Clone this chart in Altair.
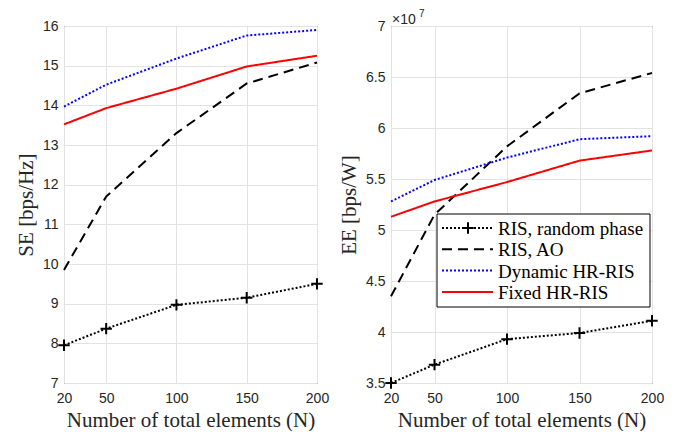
import altair as alt
import pandas as pd

N = [20, 50, 100, 150, 200]
series = ["RIS, random phase", "RIS, AO", "Dynamic HR-RIS", "Fixed HR-RIS"]
colors = ["#000000", "#000000", "#0000ff", "#ff0000"]
dashes = [[2, 2], [10, 6], [2, 2], [1, 0]]

se_random = [7.95, 8.37, 8.97, 9.15, 9.50]
se_ao = [9.85, 11.70, 13.30, 14.55, 15.08]
se_dyn = [13.97, 14.52, 15.18, 15.76, 15.90]
se_fixed = [13.52, 13.93, 14.42, 14.98, 15.25]

ee_random = [3.50, 3.68, 3.93, 3.99, 4.11]
ee_ao = [4.35, 5.15, 5.82, 6.34, 6.54]
ee_dyn = [5.28, 5.49, 5.71, 5.89, 5.92]
ee_fixed = [5.13, 5.28, 5.47, 5.68, 5.78]

se_ticks = [7, 8, 9, 10, 11, 12, 13, 14, 15, 16]
ee_ticks = [3.5, 4, 4.5, 5, 5.5, 6, 6.5, 7]


def make_df(vals):
    rows = []
    for s, v in zip(series, vals):
        for n, y in zip(N, v):
            rows.append({"N": n, "value": y, "series": s})
    return pd.DataFrame(rows)


se_df = make_df([se_random, se_ao, se_dyn, se_fixed])
ee_df = make_df([ee_random, ee_ao, ee_dyn, ee_fixed])

PLUS = "M-1,0L1,0M0,-1L0,1"
SANS = "Liberation Sans"
SERIF = "Liberation Serif"
ONE = pd.DataFrame({"a": [0]})


def legend_layers():
    # legend box (relative to the right plot area)
    out = [alt.Chart(ONE).mark_rect(fill="white", stroke="black", strokeWidth=1).encode(
        x=alt.value(46), x2=alt.value(259), y=alt.value(188), y2=alt.value(281))]
    for i, s in enumerate(series):
        yc = 202 + i * 21.3
        out.append(alt.Chart(ONE).mark_rule(strokeWidth=2, strokeDash=dashes[i], color=colors[i]).encode(
            x=alt.value(51), x2=alt.value(102), y=alt.value(yc)))
        out.append(alt.Chart(pd.DataFrame({"t": [s]})).mark_text(
            align="left", baseline="middle", font=SERIF, fontSize=19, color="black"
        ).encode(x=alt.value(107), y=alt.value(yc + 1), text="t:N"))
    out.append(alt.Chart(ONE).mark_point(
        shape=PLUS, size=130, strokeWidth=2, color="black", filled=False, opacity=1
    ).encode(x=alt.value(77), y=alt.value(202)))
    return out


def panel(df, ytitle, ydomain, yticks, width, right):
    x = alt.X("N:Q", scale=alt.Scale(domain=[20, 200], nice=False),
              axis=alt.Axis(values=N, title="Number of total elements (N)"))
    y = alt.Y("value:Q", scale=alt.Scale(domain=ydomain, nice=False, zero=False),
              axis=alt.Axis(values=yticks, title=ytitle, format="~g"))
    color = alt.Color("series:N", scale=alt.Scale(domain=series, range=colors),
                      sort=series, legend=None)
    dash = alt.StrokeDash("series:N", scale=alt.Scale(domain=series, range=dashes),
                          sort=series, legend=None)
    base = alt.Chart(df)
    lines = base.mark_line(strokeWidth=2).encode(x=x, y=y, color=color, strokeDash=dash)
    pts = base.transform_filter(alt.datum.series == series[0]).mark_point(
        shape=PLUS, size=130, strokeWidth=2, color="black", filled=False, opacity=1
    ).encode(x=x, y=y)
    layers = [lines, pts]
    if right:
        layers += legend_layers()
        exp1 = alt.Chart(pd.DataFrame({"t": ["×10"]})).mark_text(
            align="left", baseline="alphabetic", font=SANS, fontSize=14, color="#262626"
        ).encode(x=alt.value(1), y=alt.value(-2), text="t:N")
        exp2 = alt.Chart(pd.DataFrame({"t": ["7"]})).mark_text(
            align="left", baseline="alphabetic", font=SANS, fontSize=10, color="#262626"
        ).encode(x=alt.value(28), y=alt.value(-9), text="t:N")
        layers += [exp1, exp2]
    return alt.layer(*layers).properties(width=width, height=357)


left = panel(se_df, "SE [bps/Hz]", [7, 16], se_ticks, 253, False)
right = panel(ee_df, "EE [bps/W]", [3.5, 7], ee_ticks, 261, True)

chart = alt.hconcat(left, right, spacing=74, bounds="flush").properties(
    padding={"left": 6, "top": 0, "right": 5, "bottom": 0},
    background="white"
).configure_view(
    stroke="#262626", strokeWidth=1
).configure_axis(
    labelFont=SANS, labelFontSize=14, labelColor="#262626",
    titleFont=SERIF, titleFontSize=21, titleFontWeight="normal", titleColor="#262626",
    grid=True, gridColor="#e3e3e3", gridWidth=1, ticks=False, domain=False,
    titlePadding=6
).configure_axisX(
    labelPadding=8, labelFlush=False, titlePadding=4
).configure_axisY(
    labelPadding=6
)

chart.save("out.html", embed_options={"renderer": "svg", "actions": False})
